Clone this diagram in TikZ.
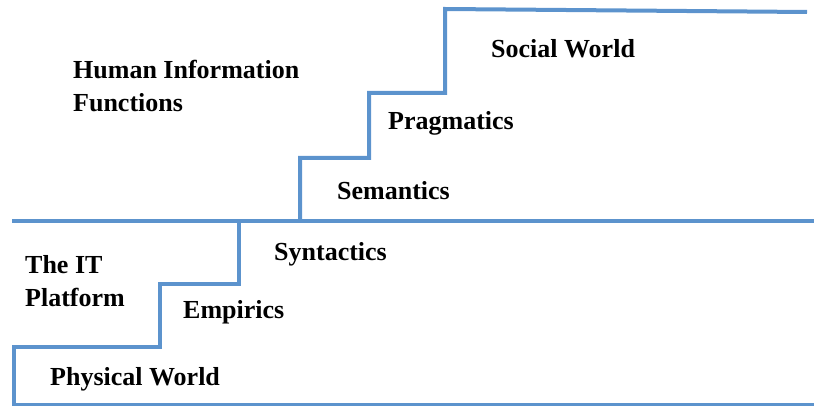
\documentclass[tikz,border=0pt]{standalone}
\usepackage{fontspec}
\setmainfont{Liberation Serif}
\definecolor{stairblue}{RGB}{92,147,205}
\tikzset{
  stairline/.style={draw=stairblue, line width=4pt, line join=miter},
  levellabel/.style={anchor=base west, inner sep=0pt,
    font=\fontsize{26}{33}\selectfont\bfseries},
  grouplabel/.style={levellabel, anchor=north west, align=left}
}

\begin{document}
\begin{tikzpicture}[x=1pt, y=-1pt]
  \useasboundingbox (0,0) rectangle (814,406);
  % free ends of the lines
  \coordinate (bottomright) at (814,405);
  \coordinate (midleft) at (12,221);
  \coordinate (midright) at (814,221);
  \coordinate (topright) at (807,12);

  % IT platform stairs
  \draw[stairline] (bottomright) -- (14,405) -- (14,347) -- (160,347)
    -- (160,284) -- (239,284) -- (239,221);
  \draw[stairline] (midleft) -- (midright);
  % human information stairs
  \draw[stairline] (300,221) -- (300,158) -- (369,158) -- (369,93)
    -- (445,93) -- (445,9) -- (topright);

  \node[grouplabel] (humanfunctions) at (73,60) {Human\ Information\\Functions};
  \node[grouplabel] (itplatform) at (25,255) {The IT\\Platform};
  \node[levellabel] (social) at (491,58) {Social World};
  \node[levellabel] (pragmatics) at (388,130) {Pragmatics};
  \node[levellabel] (semantics) at (337,200) {Semantics};
  \node[levellabel] (syntactics) at (274,260) {Syntactics};
  \node[levellabel] (empirics) at (183,318) {Empirics};
  \node[levellabel] (physical) at (50,385) {Physical World};
\end{tikzpicture}
\end{document}
